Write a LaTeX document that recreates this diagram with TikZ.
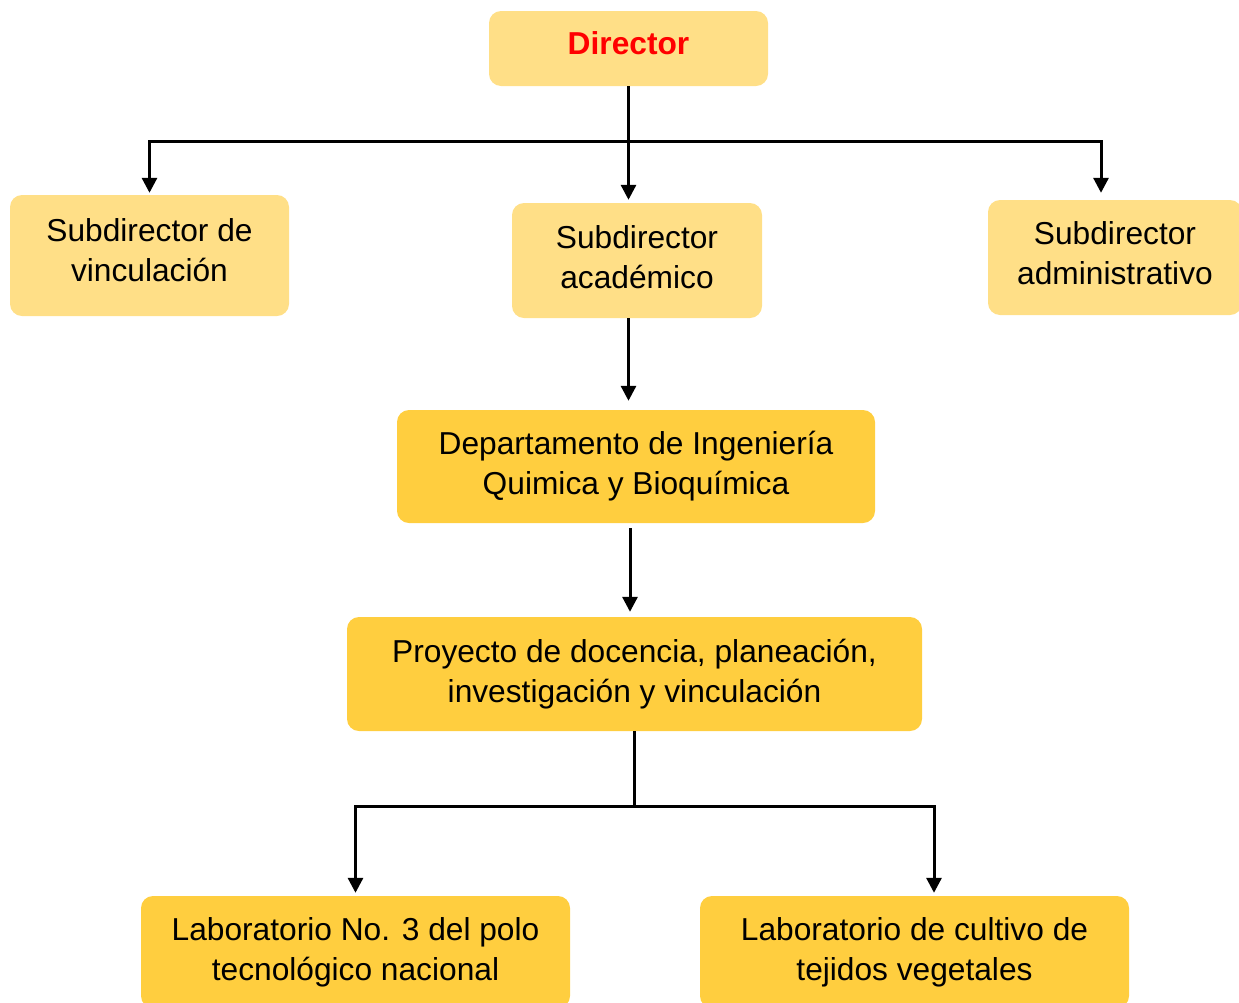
\documentclass[tikz,border=0pt]{standalone}
\usepackage{fontspec}
\setmainfont{Liberation Sans}
\usetikzlibrary{arrows.meta,calc,positioning}
\definecolor{orgLight}{HTML}{FFDF87}
\definecolor{orgGold}{HTML}{FFCE3F}
\definecolor{orgRed}{HTML}{FF0000}

\begin{document}
\begin{tikzpicture}[x=1pt,y=-1pt,>={Triangle[width=15pt,length=15pt]},line join=miter]
\useasboundingbox (0,0) rectangle (1239,1002);
\tikzset{lightbox/.style={fill=orgLight,rounded corners=12pt,align=center,inner sep=0pt,font=\fontsize{31.7}{40}\selectfont},goldbox/.style={lightbox,fill=orgGold},link/.style={draw=black,line width=3pt}}
% boxes
\node[lightbox,minimum width=279pt,minimum height=75pt,text depth=10pt,text=orgRed,font=\fontsize{31.7}{40}\selectfont\bfseries] (dir) at (628.5,48.5) {Director};
\node[lightbox,minimum width=279pt,minimum height=121pt,text depth=10pt] (vinc) at (149.5,255.5) {Subdirector de\\vinculación};
\node[lightbox,minimum width=250pt,minimum height=115pt,text depth=6pt] (aca) at (637,260.5) {Subdirector\\académico};
\node[lightbox,minimum width=254pt,minimum height=115pt,text depth=8pt] (adm) at (1115,257.5) {Subdirector\\administrativo};
\node[goldbox,minimum width=478pt,minimum height=113pt] (dep) at (636,466.5) {Departamento de Ingeniería\\Quimica y Bioquímica};
\node[goldbox,minimum width=575pt,minimum height=114pt] (proy) at (634.5,674) {Proyecto de docencia, planeación,\\investigación y vinculación};
\node[goldbox,minimum width=429pt,minimum height=112pt] (lab3) at (355.5,952) {Laboratorio No. 3 del polo\\tecnológico nacional};
\node[goldbox,minimum width=429pt,minimum height=112pt] (labc) at (914.5,952) {Laboratorio de cultivo de\\tejidos vegetales};
% connectors
\coordinate (split) at (628.5,141.5);
\coordinate (fork) at (634.5,806);
\draw[link,->,shorten >=3pt] (dir.south) -- (dir.south |- aca.north);
\draw[link,->,shorten >=2pt] (split) -| (vinc.north);
\draw[link,->,shorten >=7pt] (split) -| ([xshift=-14pt]adm.north);
\draw[link,->,shorten >=9pt] (dir.south |- aca.south) -- (dir.south |- dep.north);
\draw[link,->,shorten <=5pt,shorten >=5pt] ([xshift=-6pt]dep.south) -- ([xshift=-6pt]dep.south |- proy.north);
\draw[link] (proy.south) -- (fork);
\draw[link,->,shorten >=3pt] (fork) -| (lab3.north);
\draw[link,->,shorten >=3pt] (fork) -| ([xshift=19.5pt]labc.north);
\end{tikzpicture}
\end{document}
